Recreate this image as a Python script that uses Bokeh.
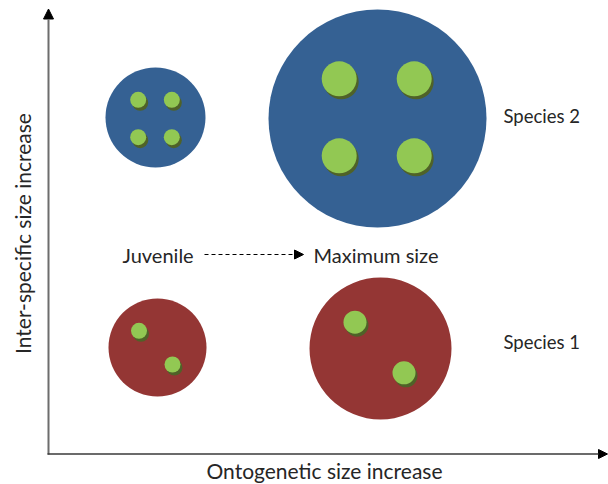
import math
from bokeh.plotting import figure
from bokeh.models import Range1d, Arrow, NormalHead, Label, ColumnDataSource
from bokeh.embed import file_html
from bokeh.resources import INLINE

# ---- data (diagram coordinates, y grows downward) ----
body_species = ["Species 1", "Species 1", "Species 2", "Species 2"]
body_stage = ["Juvenile", "Maximum size", "Juvenile", "Maximum size"]
body_x = [157, 380, 155, 377]
body_y = [347, 348, 117, 118]
body_r = [49, 71, 50, 109]
body_color = ["#943634", "#943634", "#356193", "#356193"]

cell_x = [138.5, 172, 354.5, 403.5,
          137.7, 171.3, 137.7, 171.3,
          338.7, 413.7, 338.7, 413.7]
cell_y = [330.3, 364, 321.7, 372.3,
          99.3, 99.3, 136.7, 136.7,
          78.3, 78.3, 155.3, 155.3]
cell_r = [8, 8, 11.5, 11.5,
          8, 8, 8, 8,
          17.5, 17.5, 17.5, 17.5]

species_labels = ["Species 2", "Species 1"]
species_label_x = [503, 503]
species_label_y = [115, 341]

stage_labels = ["Juvenile", "Maximum size"]
stage_label_x = [122, 313]
stage_label_y = [254, 254]

FONT = "Lato"
TXT = "#262626"

p = figure(width=608, height=484, output_backend="svg", toolbar_location=None,
           x_range=Range1d(0, 608), y_range=Range1d(484, 0),
           min_border=0, outline_line_color=None)
p.axis.visible = False
p.grid.visible = False
p.background_fill_color = "white"
p.border_fill_color = "white"

body_src = ColumnDataSource(dict(x=body_x, y=body_y, r=body_r, c=body_color))
p.circle(x="x", y="y", radius="r", fill_color="c", line_color=None, source=body_src)

sx = [x + 2 for x in cell_x]
sy = [y + 3 for y in cell_y]
p.circle(x=sx, y=sy, radius=cell_r, fill_color="#4f6228", line_color=None)
p.circle(x=cell_x, y=cell_y, radius=cell_r, fill_color="#92c853", line_color=None)

# axes arrows
p.add_layout(Arrow(x_start=48, y_start=454, x_end=48, y_end=8.5,
                   line_color="#6d6d6d", line_width=2,
                   end=NormalHead(size=10, fill_color="black", line_color="black")))
p.add_layout(Arrow(x_start=47, y_start=453.5, x_end=607, y_end=453.5,
                   line_color="#3a3a3a", line_width=1.5,
                   end=NormalHead(size=9, fill_color="black", line_color="black")))
# ontogeny dashed arrow
p.add_layout(Arrow(x_start=204, y_start=254, x_end=303, y_end=254,
                   line_color="black", line_width=1, line_dash="4 3",
                   end=NormalHead(size=9, fill_color="black", line_color="black",
                                  line_dash="solid")))

for t, x, y in zip(species_labels, species_label_x, species_label_y):
    p.add_layout(Label(x=x, y=y, text=t, text_font=FONT, text_font_size="18.5px",
                       text_color=TXT, text_align="left", text_baseline="middle"))
for t, x, y in zip(stage_labels, stage_label_x, stage_label_y):
    p.add_layout(Label(x=x, y=y, text=t, text_font=FONT, text_font_size="20px",
                       text_color=TXT, text_align="left", text_baseline="middle"))

p.add_layout(Label(x=324, y=470, text="Ontogenetic size increase", text_font=FONT,
                   text_font_size="21px", text_color=TXT, text_align="center",
                   text_baseline="middle"))
p.add_layout(Label(x=22, y=233, text="Inter-specific size increase", text_font=FONT,
                   text_font_size="21px", text_color=TXT, text_align="center",
                   text_baseline="middle", angle=math.pi / 2))

open("out.html", "w").write(file_html(p, INLINE))
